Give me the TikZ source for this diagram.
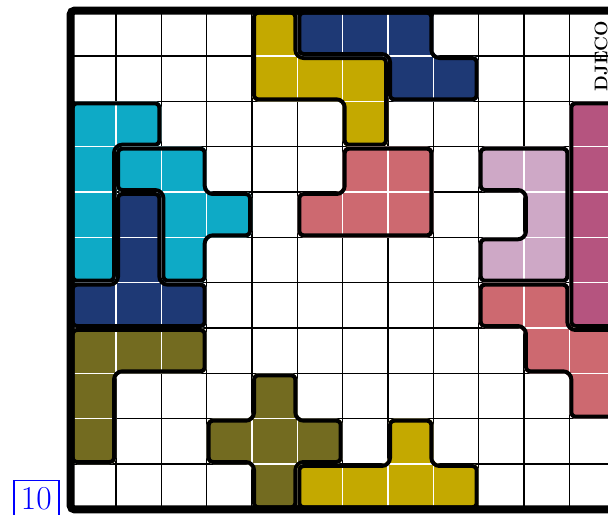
\documentclass[tikz,border=0pt]{standalone}
\usepackage{tikz}
\definecolor{pzgold}{HTML}{C4A900}
\definecolor{pznavy}{HTML}{1E3975}
\definecolor{pzcyan}{HTML}{0EAAC6}
\definecolor{pzsalmon}{HTML}{CD6970}
\definecolor{pzmauve}{HTML}{CEA8C6}
\definecolor{pzmagenta}{HTML}{B5547F}
\definecolor{pzolive}{HTML}{736B20}
\tikzset{
  gridline/.style={line width=0.9pt, black},
  pzwhite/.style={white, line width=1pt},
  pzline/.style={black, line width=5pt},
  frameline/.style={line width=5pt, black, rounded corners=0.08cm},
  tenbox/.style={draw=blue, text=blue, line width=1pt, font=\fontsize{21}{25}\selectfont, inner xsep=4.45pt, inner ysep=4.1pt},
  brand/.style={rotate=90, font=\fontsize{11.5}{13}\selectfont\bfseries, inner sep=0pt}
}
\def\pzr{0.14cm}
\newcommand{\pzpiece}[2]{%
  \begin{scope}
    \clip[rounded corners=\pzr] #2 -- cycle;
    \fill[#1] (-1,1) rectangle (13,-12);
    \draw[pzwhite] (0,0) grid (12,-11);
    \draw[pzline, rounded corners=\pzr] #2 -- cycle;
  \end{scope}}
\begin{document}
\begin{tikzpicture}
\useasboundingbox (-1.5597,0.236) rectangle (11.853,-11.125);
\clip (-1.5597,0.236) rectangle (11.853,-11.125);
\fill[white] (-1.5597,0.236) rectangle (11.853,-11.125);
% grid
\draw[gridline] (0,0) grid (12,-11);
% pieces
\pzpiece{pzgold}{(4,0) -- (5,0) -- (5,-1) -- (7,-1) -- (7,-3) -- (6,-3) -- (6,-2) -- (4,-2)}
\pzpiece{pznavy}{(5,0) -- (8,0) -- (8,-1) -- (9,-1) -- (9,-2) -- (7,-2) -- (7,-1) -- (5,-1)}
\pzpiece{pzcyan}{(0,-2) -- (2,-2) -- (2,-3) -- (1,-3) -- (1,-6) -- (0,-6)}
\pzpiece{pzcyan}{(1,-3) -- (3,-3) -- (3,-4) -- (4,-4) -- (4,-5) -- (3,-5) -- (3,-6) -- (2,-6) -- (2,-4) -- (1,-4)}
\pzpiece{pznavy}{(1,-4) -- (2,-4) -- (2,-6) -- (3,-6) -- (3,-7) -- (0,-7) -- (0,-6) -- (1,-6)}
\pzpiece{pzolive}{(0,-7) -- (3,-7) -- (3,-8) -- (1,-8) -- (1,-10) -- (0,-10)}
\pzpiece{pzolive}{(4,-8) -- (5,-8) -- (5,-9) -- (6,-9) -- (6,-10) -- (5,-10) -- (5,-11) -- (4,-11) -- (4,-10) -- (3,-10) -- (3,-9) -- (4,-9)}
\pzpiece{pzgold}{(7,-9) -- (8,-9) -- (8,-10) -- (9,-10) -- (9,-11) -- (5,-11) -- (5,-10) -- (7,-10)}
\pzpiece{pzsalmon}{(6,-3) -- (8,-3) -- (8,-5) -- (5,-5) -- (5,-4) -- (6,-4)}
\pzpiece{pzmauve}{(9,-3) -- (11,-3) -- (11,-6) -- (9,-6) -- (9,-5) -- (10,-5) -- (10,-4) -- (9,-4)}
\pzpiece{pzmagenta}{(11,-2) -- (12,-2) -- (12,-7) -- (11,-7)}
\pzpiece{pzsalmon}{(9,-6) -- (11,-6) -- (11,-7) -- (12,-7) -- (12,-9) -- (11,-9) -- (11,-8) -- (10,-8) -- (10,-7) -- (9,-7)}
% frame
\draw[frameline] (12.3,0) -- (0,0) -- (0,-11) -- (12.3,-11);
% texts
\node[brand] (brandname) at (11.699,-1.0) {DJECO};
\node[tenbox, anchor=base] (pagenum) at (-0.758,-11.0) {10};
\end{tikzpicture}
\end{document}
